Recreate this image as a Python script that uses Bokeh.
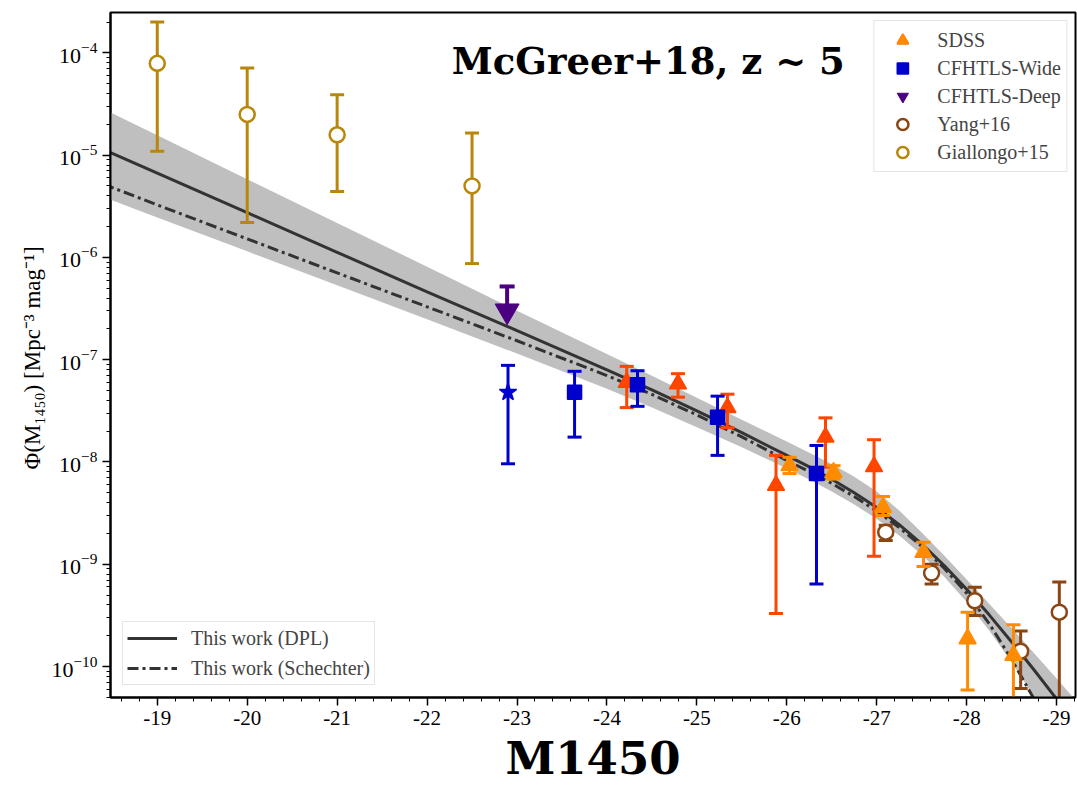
import math
from bokeh.plotting import figure
from bokeh.models import Range1d, FixedTicker, Legend, LegendItem, Label, Title
from bokeh.embed import file_html
from bokeh.resources import INLINE

# ---------------- data ----------------
# SDSS (orange-red)
sdss1_M = [-24.22, -24.79, -25.34, -25.88, -26.43, -26.97]
sdss1_phi = [6.0e-8, 5.8e-8, 3.4e-8, 5.9e-9, 1.75e-8, 9.0e-9]
sdss1_up = [8.6e-8, 7.3e-8, 4.6e-8, 1.16e-8, 2.7e-8, 1.65e-8]
sdss1_lo = [3.4e-8, 4.3e-8, 2.16e-8, 3.3e-10, 8.9e-9, 1.2e-9]
# SDSS (orange)
sdss2_M = [-26.03, -26.52, -27.07, -27.52, -28.01, -28.52]
sdss2_phi = [9.2e-9, 7.9e-9, 3.6e-9, 1.31e-9, 1.87e-10, 1.29e-10]
sdss2_up = [1.11e-8, 9.2e-9, 4.6e-9, 1.64e-9, 3.4e-10, 2.56e-10]
sdss2_lo = [7.7e-9, 6.8e-9, 3.0e-9, 9.5e-10, 5.9e-11, 1.0e-11]
# CFHTLS-Wide (star + squares)
wstar_M = [-22.90]
wstar_phi = [4.8e-8]
wstar_up = [8.8e-8]
wstar_lo = [9.6e-9]
wsq_M = [-23.64, -24.34, -25.23, -26.33]
wsq_phi = [4.8e-8, 5.7e-8, 2.74e-8, 7.7e-9]
wsq_up = [7.7e-8, 7.8e-8, 4.4e-8, 1.45e-8]
wsq_lo = [1.75e-8, 3.5e-8, 1.16e-8, 6.4e-10]
# CFHTLS-Deep (upper limit)
deep_M = [-22.89]
deep_phi = [3.0e-7]
deep_up = [5.2e-7]
# Yang+16
yang_M = [-27.10, -27.61, -28.09, -28.60, -29.03]
yang_phi = [2.06e-9, 8.2e-10, 4.4e-10, 1.41e-10, 3.4e-10]
yang_up = [2.4e-9, 1.0e-9, 5.97e-10, 2.22e-10, 6.7e-10]
yang_lo = [1.71e-9, 6.4e-10, 3.16e-10, 6.1e-11, 1.0e-11]
# Giallongo+15
gial_M = [-19.0, -20.0, -21.0, -22.5]
gial_phi = [7.9e-5, 2.5e-5, 1.58e-5, 5.0e-6]
gial_up = [2.0e-4, 7.1e-5, 3.9e-5, 1.65e-5]
gial_lo = [1.09e-5, 2.19e-6, 4.4e-6, 8.7e-7]

# model curves and 1-sigma band
model_M = [-18.4, -19, -20, -21, -22, -23, -24, -24.5, -25, -25.5, -26, -26.25, -26.5,
           -26.75, -27, -27.25, -27.5, -27.75, -28, -28.25, -28.5, -28.75, -29, -29.25]
dpl_phi = [1.135e-5, 6.67e-6, 2.735e-6, 1.122e-6, 4.60e-7, 1.928e-7, 7.94e-8, 5.07e-8,
           3.16e-8, 1.936e-8, 1.161e-8, 8.95e-9, 6.78e-9, 5.01e-9, 3.58e-9, 2.44e-9,
           1.58e-9, 9.72e-10, 5.69e-10, 3.20e-10, 1.74e-10, 9.25e-11, 4.81e-11, 2.47e-11]
sch_phi = [5.21e-6, 3.26e-6, 1.517e-6, 7.06e-7, 3.29e-7, 1.531e-7, 7.0e-8, 4.57e-8,
           2.88e-8, 1.758e-8, 1.035e-8, 8.05e-9, 6.17e-9, 4.59e-9, 3.31e-9, 2.29e-9,
           1.496e-9, 9.16e-10, 5.21e-10, 2.63e-10, 1.175e-10, 4.79e-11, 1.74e-11, 5.6e-12]
band_hi = [2.83e-5, 1.567e-5, 5.82e-6, 2.173e-6, 8.11e-7, 3.01e-7, 1.135e-7, 6.95e-8,
           4.25e-8, 2.59e-8, 1.585e-8, 1.23e-8, 9.55e-9, 7.16e-9, 5.13e-9, 3.35e-9,
           2.04e-9, 1.216e-9, 7.08e-10, 4.12e-10, 2.37e-10, 1.35e-10, 7.63e-11, 4.29e-11]
band_lo = [3.89e-6, 2.455e-6, 1.146e-6, 5.33e-7, 2.49e-7, 1.148e-7, 5.19e-8, 3.40e-8,
           2.19e-8, 1.39e-8, 8.63e-9, 6.73e-9, 5.15e-9, 3.84e-9, 2.77e-9, 1.905e-9,
           1.236e-9, 7.53e-10, 4.27e-10, 2.25e-10, 1.10e-10, 5.04e-11, 2.15e-11, 8.55e-12]

x_major = [-19, -20, -21, -22, -23, -24, -25, -26, -27, -28, -29]
y_major = [1e-10, 1e-9, 1e-8, 1e-7, 1e-6, 1e-5, 1e-4]

title_text = "McGreer+18, z ~ 5"
xlabel_text = "M1450"
ylabel_text = "Φ(M₁₄₅₀)  [Mpc⁻³ mag⁻¹]"

# ---------------- figure ----------------
p = figure(width=1077, height=791,
           x_range=Range1d(-18.48, -29.21), y_range=Range1d(4.98e-11, 2.48e-4),
           y_axis_type="log", output_backend="svg", toolbar_location=None,
           min_border_left=110, min_border_right=2, min_border_top=12, min_border_bottom=94)
p.grid.visible = False
p.outline_line_color = "black"
p.outline_line_width = 2
p.background_fill_color = "white"
p.border_fill_color = "white"

SERIF = "Liberation Serif"

# band and model lines
p.varea(x=model_M, y1=band_lo, y2=band_hi, fill_color="#bfbfbf", fill_alpha=1.0)
r_dpl = p.line(model_M, dpl_phi, line_color="#333333", line_width=3)
r_sch = p.line(model_M, sch_phi, line_color="#333333", line_width=3, line_dash="11 4 3 4")


def errbar(xs, ys, lo, hi, color, marker, size, fill, lw=3, cap=14, mlw=1.5):
    p.segment(x0=xs, y0=lo, x1=xs, y1=hi, line_color=color, line_width=lw)
    p.scatter(x=xs, y=hi, marker="dash", size=cap, line_color=color, line_width=lw)
    p.scatter(x=xs, y=lo, marker="dash", size=cap, line_color=color, line_width=lw)
    return p.scatter(x=xs, y=ys, marker=marker, size=size, fill_color=fill,
                     line_color=color, line_width=mlw)


C_SDSS1 = "#ff4500"
C_SDSS2 = "#ff8c00"
C_WIDE = "#0000cd"
C_DEEP = "#4b0082"
C_YANG = "#8b4513"
C_GIAL = "#b8860b"

r_yang = errbar(yang_M, yang_phi, yang_lo, yang_up, C_YANG, "circle", 15, "white", mlw=2.5)
r_gial = errbar(gial_M, gial_phi, gial_lo, gial_up, C_GIAL, "circle", 15, "white", mlw=2.5)
r_s1 = errbar(sdss1_M, sdss1_phi, sdss1_lo, sdss1_up, C_SDSS1, "triangle", 17, C_SDSS1)
r_s2 = errbar(sdss2_M, sdss2_phi, sdss2_lo, sdss2_up, C_SDSS2, "triangle", 17, C_SDSS2)
r_ws = errbar(wstar_M, wstar_phi, wstar_lo, wstar_up, C_WIDE, "star", 18, C_WIDE)
r_wq = errbar(wsq_M, wsq_phi, wsq_lo, wsq_up, C_WIDE, "square", 14, C_WIDE)

# upper limit (CFHTLS-Deep)
p.segment(x0=deep_M, y0=deep_phi, x1=deep_M, y1=deep_up, line_color=C_DEEP, line_width=4)
p.scatter(x=deep_M, y=deep_up, marker="dash", size=15, line_color=C_DEEP, line_width=4)
r_deep = p.scatter(x=deep_M, y=deep_phi, marker="inverted_triangle", size=24,
                   fill_color=C_DEEP, line_color=C_DEEP)

# ---------------- axes ----------------
p.xaxis.ticker = FixedTicker(ticks=x_major,
                             minor_ticks=[-18.6 - 0.2 * i for i in range(54)])
p.xaxis.major_label_overrides = {float(t): str(t) for t in x_major}
minor_y = [m * 10.0 ** k for k in range(-11, -3) for m in range(2, 10)]
p.yaxis.ticker = FixedTicker(ticks=y_major, minor_ticks=minor_y)
for ax in (p.xaxis[0], p.yaxis[0]):
    ax.axis_line_width = 2
    ax.major_tick_out = 8
    ax.major_tick_in = 0
    ax.minor_tick_out = 4
    ax.minor_tick_in = 0
    ax.major_tick_line_width = 1.5
    ax.minor_tick_line_width = 1
    ax.major_label_text_font = SERIF
    ax.major_label_text_color = "black"
    ax.major_label_standoff = 5
p.xaxis.major_label_text_font_size = "21px"
p.yaxis.major_label_text_font_size = "22px"

p.xaxis.axis_label = xlabel_text
p.xaxis.axis_label_text_font = "DejaVu Serif"
p.xaxis.axis_label_text_font_style = "bold"
p.xaxis.axis_label_text_font_size = "45px"
p.xaxis.axis_label_text_color = "black"
p.xaxis.axis_label_standoff = 4

# y label: placed in the left panel, shifted upward as in the reference
ytitle = Title(text=ylabel_text, align="center", offset=48,
               text_font=SERIF, text_font_size="23px", text_font_style="normal",
               text_color="black", standoff=8)
p.add_layout(ytitle, "left")

# title inside the plot
p.add_layout(Label(x=-24.46, y=8.4e-5, text=title_text,
                   text_align="center", text_baseline="middle",
                   text_font="DejaVu Serif", text_font_style="bold",
                   text_font_size="37px", text_color="black"))

# ---------------- legends ----------------
leg1 = Legend(items=[
    LegendItem(label="SDSS", renderers=[r_s1, r_s2]),
    LegendItem(label="CFHTLS-Wide", renderers=[r_ws, r_wq]),
    LegendItem(label="CFHTLS-Deep", renderers=[r_deep]),
    LegendItem(label="Yang+16", renderers=[r_yang]),
    LegendItem(label="Giallongo+15", renderers=[r_gial]),
], location="top_right")
leg1.label_text_font = SERIF
leg1.label_text_font_size = "20px"
leg1.glyph_width = 46
leg1.glyph_height = 28
leg1.label_height = 22
leg1.spacing = 0
leg1.padding = 5
leg1.margin = 8
leg1.label_standoff = 12
leg1.border_line_color = "#cccccc"
leg1.border_line_width = 1.5
leg1.background_fill_alpha = 0.85
p.add_layout(leg1)

leg2 = Legend(items=[
    LegendItem(label="This work (DPL)", renderers=[r_dpl]),
    LegendItem(label="This work (Schechter)", renderers=[r_sch]),
], location="bottom_left")
leg2.label_text_font = SERIF
leg2.label_text_font_size = "20px"
leg2.glyph_width = 50
leg2.glyph_height = 24
leg2.label_height = 24
leg2.spacing = 6
leg2.padding = 4
leg2.margin = 12
leg2.label_standoff = 14
leg2.border_line_color = "#cccccc"
leg2.border_line_width = 1.5
leg2.background_fill_alpha = 0.85
p.add_layout(leg2)

open("out.html", "w").write(file_html(p, INLINE))
